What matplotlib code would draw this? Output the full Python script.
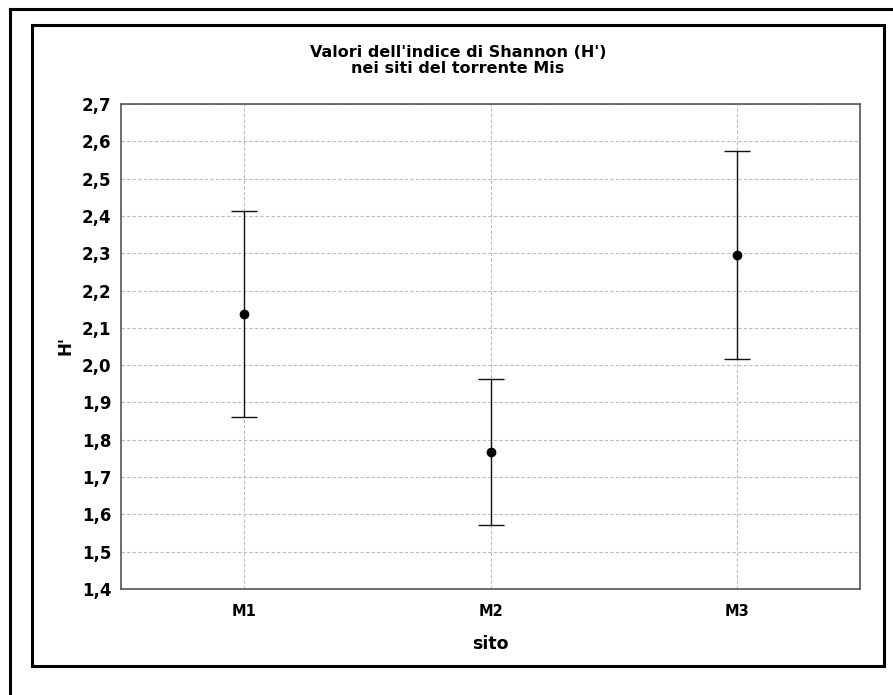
import matplotlib
matplotlib.use("Agg")
import matplotlib.pyplot as plt
from matplotlib.patches import Rectangle
from matplotlib.lines import Line2D

sites = ["M1", "M2", "M3"]
means = [2.137, 1.767, 2.296]
errs = [0.277, 0.195, 0.279]
yticks = [1.4, 1.5, 1.6, 1.7, 1.8, 1.9, 2.0, 2.1, 2.2, 2.3, 2.4, 2.5, 2.6, 2.7]
ytick_labels = [f"{v:.1f}".replace(".", ",") for v in yticks]

W, H = 893, 695
fig = plt.figure(figsize=(W / 100, H / 100), dpi=100)
plt.rcParams['font.family'] = ['DejaVu Sans']

def fx(px):
    return px / W

def fy(py):
    return 1 - py / H

# outer border (left & top visible)
fig.add_artist(Line2D([fx(10), fx(10)], [fy(9), 0], transform=fig.transFigure, color='black', lw=2.2))
fig.add_artist(Line2D([fx(10), 1], [fy(9), fy(9)], transform=fig.transFigure, color='black', lw=2.2))
# inner frame
fig.add_artist(Rectangle((fx(32), fy(666)), fx(884) - fx(32), fy(25) - fy(666),
                         transform=fig.transFigure, fill=False, edgecolor='black', lw=2.2))

ax = fig.add_axes([fx(121), fy(589), fx(860) - fx(121), fy(104) - fy(589)])
x = list(range(1, len(sites) + 1))
ax.errorbar(x, means, yerr=errs, fmt='o', color='black', ecolor='#111111',
            elinewidth=1.0, capsize=9.7, capthick=1.0, markersize=6, zorder=3)
ax.set_xlim(0.5, 3.5)
ax.set_ylim(1.4, 2.7)
ax.set_xticks(x)
ax.set_xticklabels(sites, fontsize=10.5, fontweight='bold')
ax.set_yticks(yticks)
ax.set_yticklabels(ytick_labels, fontsize=12, fontweight='bold')
ax.tick_params(length=0, pad=7)
ax.tick_params(axis='x', pad=11)
ax.grid(True, color='#bbbbbb', linestyle=(0, (3, 2)), linewidth=0.8)
for s in ax.spines.values():
    s.set_color('#555555')
    s.set_linewidth(1.2)
ax.set_xlabel("sito", fontsize=12.5, fontweight='bold', labelpad=11)

fig.text(fx(65), fy(346), "H'", rotation=90, ha='center', va='center',
         fontsize=12, fontweight='bold')

fig.text(fx(458), fy(45), "Valori dell'indice di Shannon (H')\nnei siti del torrente Mis",
         ha='center', va='top', fontsize=11.5, fontweight='bold', linespacing=1.05)

fig.savefig("out.png", dpi=100)
